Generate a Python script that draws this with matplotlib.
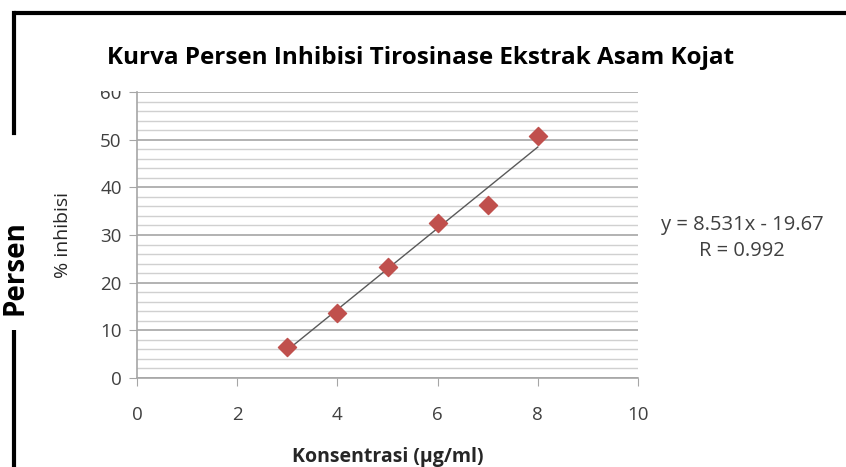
import numpy as np
import matplotlib.pyplot as plt
from matplotlib.lines import Line2D
from matplotlib.patches import Rectangle

# Data
konsentrasi = [3, 4, 5, 6, 7, 8]
inhibisi = [6.5, 13.6, 23.3, 32.5, 36.3, 50.7]
x_ticks = [0, 2, 4, 6, 8, 10]
y_ticks = [0, 10, 20, 30, 40, 50, 60]
equation = "y = 8.531x - 19.67"
r_text = "R = 0.992"

TICK_COLOR = "#404040"
GRID_MAJOR = "#a6a6a6"
GRID_MINOR = "#d0d0d0"
MARKER_COLOR = "#c0504d"

plt.rcParams["font.family"] = ["Open Sans", "DejaVu Sans"]

fig = plt.figure(figsize=(8.46, 4.67), dpi=100)
ax = fig.add_axes([137 / 846, 1 - 378 / 467, (638 - 137) / 846, (378 - 92) / 467])

# Gridlines
ax.set_yticks(np.arange(0, 61, 2), minor=True)
ax.grid(True, axis="y", which="minor", color=GRID_MINOR, linewidth=1.0)
ax.grid(True, axis="y", which="major", color=GRID_MAJOR, linewidth=1.2)
ax.set_axisbelow(True)

# Trendline
slope, intercept = np.polyfit(konsentrasi, inhibisi, 1)
xs = np.array([min(konsentrasi), max(konsentrasi)])
ax.plot(xs, slope * xs + intercept, color="#595959", linewidth=1.0, zorder=2)

# Data points
ax.scatter(konsentrasi, inhibisi, marker="D", s=85, color=MARKER_COLOR,
           edgecolors=MARKER_COLOR, zorder=3)

ax.set_xlim(0, 10)
ax.set_ylim(0, 60)
ax.set_xticks(x_ticks)
ax.set_yticks(y_ticks)
ax.tick_params(axis="both", which="major", direction="out", length=6,
               color=GRID_MAJOR, labelsize=13.5, labelcolor=TICK_COLOR)
ax.tick_params(axis="y", which="minor", length=0)
ax.tick_params(axis="x", pad=14)
ax.tick_params(axis="y", pad=5)

for side in ["top", "right"]:
    ax.spines[side].set_visible(False)
for side in ["left", "bottom"]:
    ax.spines[side].set_color(GRID_MAJOR)
    ax.spines[side].set_linewidth(1.2)

ax.set_ylabel("% inhibisi", fontsize=14, color="#262626", labelpad=20)
ax.set_xlabel("Konsentrasi (µg/ml)", fontsize=14, fontweight="bold",
              color="#262626", labelpad=17)

# Equation text
fig.text(742 / 846, 1 - 225 / 467, equation, ha="center", va="center",
         fontsize=14.5, color=TICK_COLOR)
fig.text(742 / 846, 1 - 251 / 467, r_text, ha="center", va="center",
         fontsize=14.5, color=TICK_COLOR)

# Hide the top half of the "60" label, as in the reference
fig.patches.append(Rectangle((90 / 846, 1 - 91 / 467), 38 / 846, 14 / 467,
                             transform=fig.transFigure, facecolor="white",
                             edgecolor="none", zorder=5))

# Title
fig.text(421 / 846, 1 - 58 / 467, "Kurva Persen Inhibisi Tirosinase Ekstrak Asam Kojat",
         ha="center", va="center", fontsize=17.5, fontweight="bold", color="black")

# Outer frame lines
fig.add_artist(Line2D([14 / 846, 1], [1 - 13 / 467, 1 - 13 / 467], color="black",
                      linewidth=3, transform=fig.transFigure, solid_capstyle="butt"))
fig.add_artist(Line2D([14 / 846, 14 / 846], [1 - 13 / 467, 1 - 133 / 467], color="black",
                      linewidth=3, transform=fig.transFigure, solid_capstyle="projecting"))
fig.add_artist(Line2D([14 / 846, 14 / 846], [1 - 330 / 467, 0], color="black",
                      linewidth=3, transform=fig.transFigure, solid_capstyle="butt"))

fig.text(15 / 846, 1 - 268 / 467, "Persen", rotation=90, ha="center", va="center",
         fontsize=20, fontweight="bold", color="black")

fig.savefig("out.png", dpi=100, facecolor="white")
